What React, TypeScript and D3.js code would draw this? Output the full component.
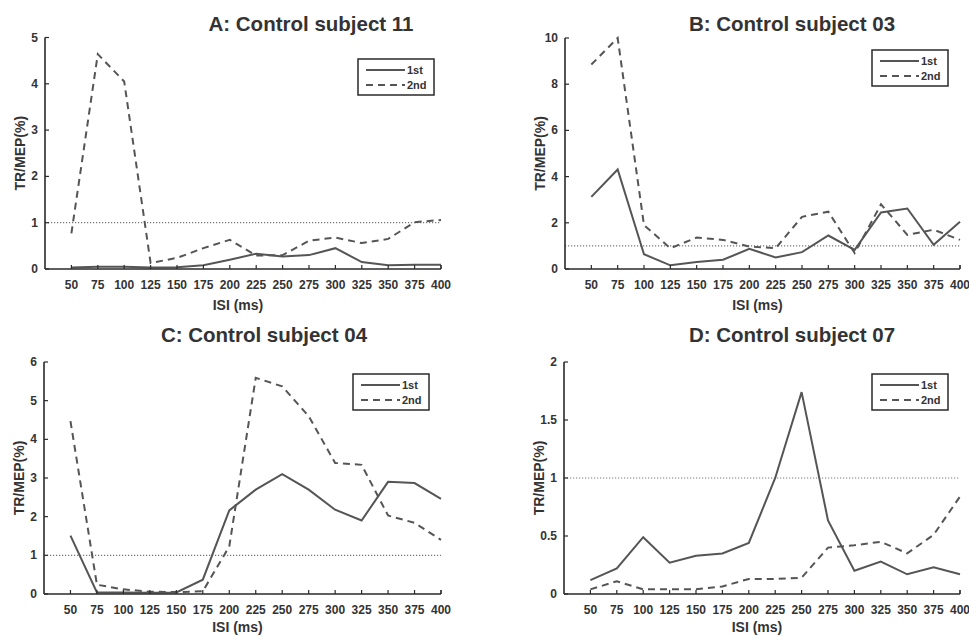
import React from "react";
import * as d3 from "d3";

// Inter-stimulus intervals (ms)
const isi = [50, 75, 100, 125, 150, 175, 200, 225, 250, 275, 300, 325, 350, 375, 400];

// A: Control subject 11
const s11First = [0.03, 0.05, 0.05, 0.03, 0.04, 0.08, 0.2, 0.33, 0.27, 0.3, 0.45, 0.15, 0.08, 0.09, 0.09];
const s11Second = [0.77, 4.64, 4.05, 0.13, 0.24, 0.45, 0.63, 0.29, 0.3, 0.61, 0.68, 0.56, 0.65, 1.01, 1.06];

// B: Control subject 03
const s03First = [3.12, 4.31, 0.64, 0.16, 0.3, 0.4, 0.87, 0.5, 0.73, 1.45, 0.83, 2.45, 2.62, 1.05, 2.05];
const s03Second = [8.85, 10.0, 1.9, 0.9, 1.36, 1.26, 0.97, 0.9, 2.26, 2.48, 0.69, 2.8, 1.48, 1.7, 1.26];

// C: Control subject 04
const s04First = [1.51, 0.04, 0.04, 0.03, 0.04, 0.37, 2.16, 2.7, 3.1, 2.7, 2.18, 1.9, 2.9, 2.87, 2.46];
const s04Second = [4.47, 0.24, 0.12, 0.06, 0.05, 0.07, 1.23, 5.59, 5.37, 4.6, 3.39, 3.34, 2.03, 1.84, 1.4];

// D: Control subject 07
const s07First = [0.12, 0.22, 0.49, 0.27, 0.33, 0.35, 0.44, 1.0, 1.74, 0.635, 0.2, 0.28, 0.17, 0.23, 0.17];
const s07Second = [0.04, 0.11, 0.04, 0.04, 0.04, 0.065, 0.13, 0.13, 0.14, 0.4, 0.42, 0.45, 0.35, 0.51, 0.84];

const yTicksA = [0, 1, 2, 3, 4, 5];
const yTicksB = [0, 2, 4, 6, 8, 10];
const yTicksC = [0, 1, 2, 3, 4, 5, 6];
const yTicksD = [0, 0.5, 1, 1.5, 2];

const legendLabels = ["1st", "2nd"];

const FONT = "'Liberation Sans', Arial, Helvetica, sans-serif";
const TEXT = "#333";
const AXIS = "#2a2a2a";
const LINE = "#555";

type PanelProps = {
  title: string;
  titleX: number;
  titleY: number;
  left: number;
  right: number;
  top: number;
  bottom: number;
  xLabelGap: number;
  yMax: number;
  yTicks: number[];
  first: number[];
  second: number[];
  legendX: number;
  legendY: number;
};

function Panel(p: PanelProps) {
  const x = d3.scaleLinear().domain([25, 400]).range([p.left, p.right]);
  const y = d3.scaleLinear().domain([0, p.yMax]).range([p.bottom, p.top]);
  const line = d3
    .line<number>()
    .x((_, i) => x(isi[i]))
    .y((v) => y(v));
  const fmt = (v: number) => String(v);
  const lw = 76;
  const lh = 36;
  return (
    <g>
      <text
        x={p.titleX}
        y={p.titleY}
        textAnchor="middle"
        fontFamily={FONT}
        fontWeight="bold"
        fontSize={20.5}
        fill={TEXT}
      >
        {p.title}
      </text>
      {/* reference level at 1 */}
      <line
        x1={p.left}
        x2={p.right}
        y1={y(1)}
        y2={y(1)}
        stroke="#777"
        strokeWidth={1.2}
        strokeDasharray="1.2,1.8"
      />
      <path d={line(p.second) || ""} fill="none" stroke={LINE} strokeWidth={2} strokeDasharray="7,5" />
      <path d={line(p.first) || ""} fill="none" stroke={LINE} strokeWidth={2} />
      {/* axes */}
      <line x1={p.left} x2={p.right} y1={p.bottom} y2={p.bottom} stroke={AXIS} strokeWidth={1.6} />
      <line x1={p.left} x2={p.left} y1={p.top} y2={p.bottom} stroke={AXIS} strokeWidth={1.6} />
      {isi.map((t) => (
        <g key={"xt" + t}>
          <line x1={x(t)} x2={x(t)} y1={p.bottom} y2={p.bottom - 4} stroke={AXIS} strokeWidth={1.2} />
          <text
            x={x(t)}
            y={p.bottom + 20}
            textAnchor="middle"
            fontFamily={FONT}
            fontWeight="bold"
            fontSize={12}
            fill={TEXT}
          >
            {t}
          </text>
        </g>
      ))}
      <line x1={p.right} x2={p.right} y1={p.bottom} y2={p.bottom - 4} stroke={AXIS} strokeWidth={1.2} />
      {p.yTicks.map((t) => (
        <g key={"yt" + t}>
          <line x1={p.left} x2={p.left + 4} y1={y(t)} y2={y(t)} stroke={AXIS} strokeWidth={1.2} />
          <text
            x={p.left - 7}
            y={y(t) + 4}
            textAnchor="end"
            fontFamily={FONT}
            fontWeight="bold"
            fontSize={12}
            fill={TEXT}
          >
            {fmt(t)}
          </text>
        </g>
      ))}
      <text
        x={(p.left + p.right) / 2 - 5}
        y={p.bottom + p.xLabelGap}
        textAnchor="middle"
        fontFamily={FONT}
        fontWeight="bold"
        fontSize={14}
        fill={TEXT}
      >
        ISI (ms)
      </text>
      <text
        transform={`translate(${p.left - 20},${(p.top + p.bottom) / 2}) rotate(-90)`}
        textAnchor="middle"
        fontFamily={FONT}
        fontWeight="bold"
        fontSize={14}
        fill={TEXT}
      >
        TR/MEP(%)
      </text>
      {/* legend */}
      <g transform={`translate(${p.legendX},${p.legendY})`}>
        <rect x={0} y={0} width={lw} height={lh} fill="#fff" stroke={AXIS} strokeWidth={1.5} />
        {legendLabels.map((lab, i) => (
          <g key={lab}>
            <line
              x1={8}
              x2={47}
              y1={11 + i * 15}
              y2={11 + i * 15}
              stroke={LINE}
              strokeWidth={2}
              strokeDasharray={i === 1 ? "7,5" : undefined}
            />
            <text x={49} y={15 + i * 15} fontFamily={FONT} fontWeight="bold" fontSize={11} fill={TEXT}>
              {lab}
            </text>
          </g>
        ))}
      </g>
    </g>
  );
}

export default function App() {
  return (
    <svg
      width={969}
      height={636}
      viewBox="0 0 969 636"
      style={{ position: "absolute", left: 0, top: 0, background: "#fff" }}
    >
      <rect width={969} height={636} fill="#fff" />
      <Panel
        title="A: Control subject 11"
        titleX={311}
        titleY={31}
        left={45}
        right={441}
        top={37.5}
        bottom={269}
        xLabelGap={41}
        yMax={5}
        yTicks={yTicksA}
        first={s11First}
        second={s11Second}
        legendX={358}
        legendY={59}
      />
      <Panel
        title="B: Control subject 03"
        titleX={792}
        titleY={31}
        left={565}
        right={960}
        top={38}
        bottom={269}
        xLabelGap={41}
        yMax={10}
        yTicks={yTicksB}
        first={s03First}
        second={s03Second}
        legendX={872}
        legendY={50}
      />
      <Panel
        title="C: Control subject 04"
        titleX={264}
        titleY={342}
        left={44}
        right={441}
        top={362}
        bottom={594}
        xLabelGap={37.5}
        yMax={6}
        yTicks={yTicksC}
        first={s04First}
        second={s04Second}
        legendX={353}
        legendY={374}
      />
      <Panel
        title="D: Control subject 07"
        titleX={792}
        titleY={342}
        left={564}
        right={960}
        top={362}
        bottom={594}
        xLabelGap={37.5}
        yMax={2}
        yTicks={yTicksD}
        first={s07First}
        second={s07Second}
        legendX={872}
        legendY={374}
      />
    </svg>
  );
}
